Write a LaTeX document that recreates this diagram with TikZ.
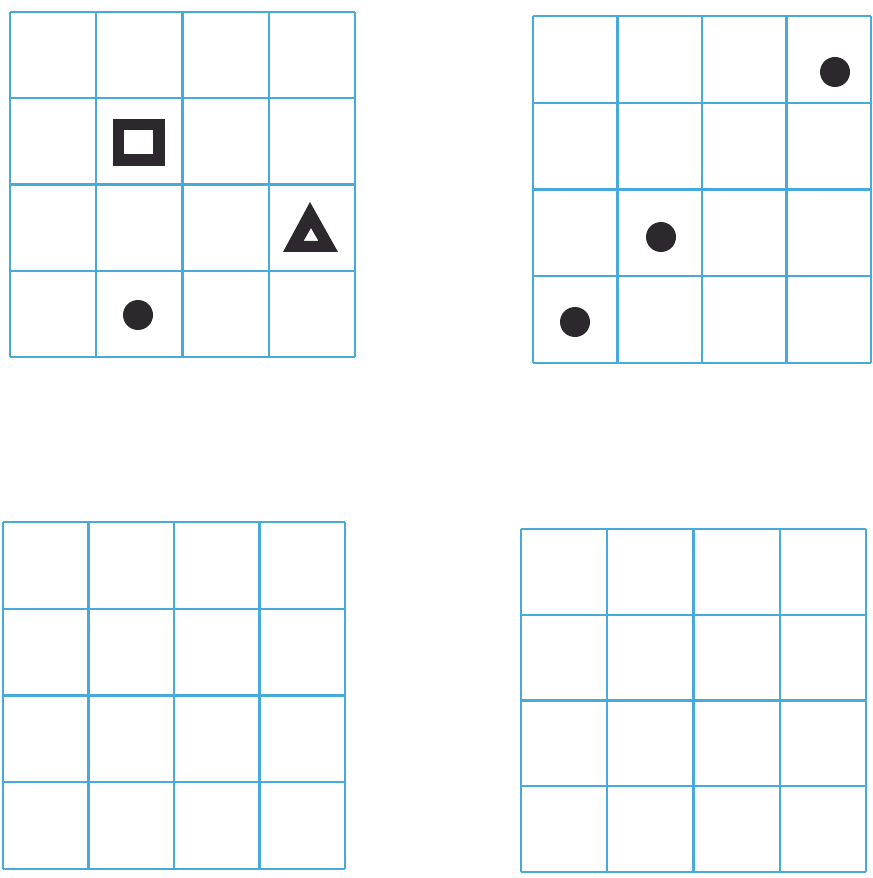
\documentclass[tikz,border=0pt]{standalone}
\definecolor{gridblue}{RGB}{70,170,218}
\definecolor{ink}{RGB}{45,40,45}
\begin{document}
\begin{tikzpicture}[x=0.03cm,y=-0.03cm,
  gridline/.style={gridblue,line width=2pt},
  token/.style={fill=ink}]
\useasboundingbox (0,0) rectangle (872,878);
% four 4x4 grids
\foreach \gx/\gy/\cx/\cy in {10/12/86.25/86.25,533/16/84.5/86.75,3/522/85.5/86.75,521/529/86.25/85.75}
{
  \foreach \i in {0,...,4}
  {
    \draw[gridline] (\gx+\i*\cx,\gy) -- (\gx+\i*\cx,\gy+4*\cy);
    \draw[gridline] (\gx,\gy+\i*\cy) -- (\gx+4*\cx,\gy+\i*\cy);
  }
}
% first grid: square, triangle, dot
\draw[ink,line width=9.5pt] (118.5,124.5) rectangle (159,160);
\fill[token,even odd rule] (310,202) -- (283,252) -- (338,252) -- cycle
  (311,228) -- (303.5,241) -- (318.5,241) -- cycle;
\fill[token] (138,315) circle (15);
% second grid: three dots
\foreach \x/\y in {835/72,661/237,575/322}
  \fill[token] (\x,\y) circle (15);
\end{tikzpicture}
\end{document}
